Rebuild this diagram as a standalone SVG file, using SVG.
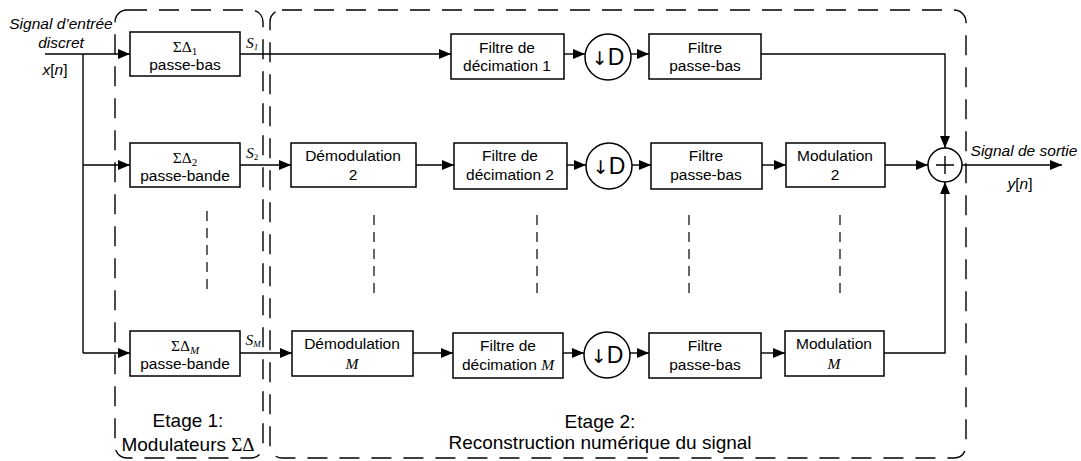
<svg xmlns="http://www.w3.org/2000/svg" width="1081" height="461" viewBox="0 0 1081 461">
<style>
.box{fill:#fff;stroke:#000;stroke-width:1.5}
.ln{fill:none;stroke:#000;stroke-width:1.4}
.stage{fill:none;stroke:#000;stroke-width:1.4;stroke-dasharray:20 12}
.dots{fill:none;stroke:#000;stroke-width:1.2;stroke-dasharray:10 7}
text{font-family:"Liberation Sans",Arial,sans-serif;font-size:15.5px;fill:#000;text-anchor:middle}
.it{font-style:italic}
.tm{font-family:"Liberation Serif","Times New Roman",serif}
.big{font-size:19px}
.dd{font-size:23px}
.arw{font-family:"DejaVu Sans",sans-serif;font-size:19px}
</style>
<defs>
<marker id="ar" markerWidth="12" markerHeight="10" refX="12" refY="5" orient="auto" markerUnits="userSpaceOnUse">
<path d="M0,0 L12,5 L0,10 Z" fill="#000"/>
</marker>
</defs>

<g id="stage1">
<rect class="stage" x="115" y="10" width="148" height="448" rx="12"/>
<text class="big" x="188" y="427">Etage 1:</text>
<text class="big" x="188" y="451">Modulateurs <tspan class="tm">ΣΔ</tspan></text>
</g>
<g id="stage2">
<rect class="stage" x="270" y="10" width="696" height="448" rx="12"/>
<text class="big" x="600" y="428">Etage 2:</text>
<text class="big" x="600" y="449">Reconstruction numérique du signal</text>
</g>

<g id="connectors">
<path class="ln" d="M45,54 H130" marker-end="url(#ar)"/>
<path class="ln" d="M83,54 V353"/>
<path class="ln" d="M83,165 H130" marker-end="url(#ar)"/>
<path class="ln" d="M83,353 H130" marker-end="url(#ar)"/>
<path class="ln" d="M240,54 H451" marker-end="url(#ar)"/>
<path class="ln" d="M564,54 H585" marker-end="url(#ar)"/>
<path class="ln" d="M631,54 H649" marker-end="url(#ar)"/>
<path class="ln" d="M761,54 H945 V148" marker-end="url(#ar)"/>
<path class="ln" d="M240,165 H291" marker-end="url(#ar)"/>
<path class="ln" d="M416,165 H454" marker-end="url(#ar)"/>
<path class="ln" d="M567,165 H586" marker-end="url(#ar)"/>
<path class="ln" d="M632,165 H651" marker-end="url(#ar)"/>
<path class="ln" d="M762,165 H786" marker-end="url(#ar)"/>
<path class="ln" d="M885,165 H928" marker-end="url(#ar)"/>
<path class="ln" d="M240,353 H292" marker-end="url(#ar)"/>
<path class="ln" d="M413,353 H453" marker-end="url(#ar)"/>
<path class="ln" d="M563,353 H584" marker-end="url(#ar)"/>
<path class="ln" d="M630,353 H649" marker-end="url(#ar)"/>
<path class="ln" d="M761,353 H785" marker-end="url(#ar)"/>
<path class="ln" d="M884,353 H945 V182" marker-end="url(#ar)"/>
<path class="ln" d="M962,165 H1062" marker-end="url(#ar)"/>
<path class="dots" d="M207,211 V295"/>
<path class="dots" d="M374,215 V297"/>
<path class="dots" d="M537,215 V297"/>
<path class="dots" d="M689,215 V297"/>
<path class="dots" d="M840,215 V297"/>
</g>

<g id="labels">
<text class="it" x="61" y="29">Signal d’entrée</text>
<text class="it" x="61" y="48">discret</text>
<text x="55" y="75"><tspan class="it">x</tspan>[<tspan class="it">n</tspan>]</text>
<text class="it" x="1024" y="156">Signal de sortie</text>
<text x="1020" y="189"><tspan class="it">y</tspan>[<tspan class="it">n</tspan>]</text>
<text class="tm it" x="252" y="48" font-size="14">S<tspan font-size="9" dy="2">1</tspan></text>
<text class="tm it" x="252" y="158" font-size="14">S<tspan font-size="9" dy="2" font-style="normal">2</tspan></text>
<text class="tm it" x="253" y="345" font-size="14">S<tspan font-size="9" dy="2">M</tspan></text>
</g>

<g id="sd1">
<rect class="box" x="130" y="32" width="110" height="44"/>
<text class="tm" x="185" y="52" font-size="17">ΣΔ<tspan font-size="11" dy="3">1</tspan></text>
<text x="185" y="70">passe-bas</text>
</g>
<g id="sd2">
<rect class="box" x="130" y="143" width="110" height="44"/>
<text class="tm" x="185" y="163" font-size="17">ΣΔ<tspan font-size="11" dy="3">2</tspan></text>
<text x="185" y="181">passe-bande</text>
</g>
<g id="sdM">
<rect class="box" x="130" y="331" width="110" height="45"/>
<text class="tm" x="185" y="351" font-size="17">ΣΔ<tspan class="it" font-size="11" dy="3">M</tspan></text>
<text x="185" y="369">passe-bande</text>
</g>

<g id="dec1">
<rect class="box" x="451" y="34" width="113" height="45"/>
<text x="507" y="53">Filtre de</text>
<text x="507" y="71">décimation 1</text>
</g>
<g id="down1">
<circle class="box" cx="608" cy="57" r="23"/>
<text class="dd" x="608" y="65"><tspan class="arw">↓&#xFE0E;</tspan>D</text>
</g>
<g id="lp1">
<rect class="box" x="649" y="34" width="112" height="45"/>
<text x="705" y="53">Filtre</text>
<text x="705" y="71">passe-bas</text>
</g>

<g id="dem2">
<rect class="box" x="291" y="143" width="125" height="44"/>
<text x="353" y="161">Démodulation</text>
<text x="353" y="180">2</text>
</g>
<g id="dec2">
<rect class="box" x="454" y="143" width="113" height="46"/>
<text x="510" y="161">Filtre de</text>
<text x="510" y="180">décimation 2</text>
</g>
<g id="down2">
<circle class="box" cx="609" cy="166" r="23"/>
<text class="dd" x="609" y="174"><tspan class="arw">↓&#xFE0E;</tspan>D</text>
</g>
<g id="lp2">
<rect class="box" x="651" y="143" width="111" height="46"/>
<text x="706" y="161">Filtre</text>
<text x="706" y="180">passe-bas</text>
</g>
<g id="mod2">
<rect class="box" x="786" y="143" width="99" height="44"/>
<text x="835" y="161">Modulation</text>
<text x="835" y="180">2</text>
</g>

<g id="demM">
<rect class="box" x="292" y="331" width="121" height="45"/>
<text x="352" y="349">Démodulation</text>
<text class="tm it" x="352" y="369">M</text>
</g>
<g id="decM">
<rect class="box" x="453" y="333" width="110" height="45"/>
<text x="508" y="351">Filtre de</text>
<text x="508" y="370">décimation <tspan class="tm it">M</tspan></text>
</g>
<g id="downM">
<circle class="box" cx="607" cy="355" r="23"/>
<text class="dd" x="607" y="363"><tspan class="arw">↓&#xFE0E;</tspan>D</text>
</g>
<g id="lpM">
<rect class="box" x="649" y="333" width="112" height="45"/>
<text x="705" y="351">Filtre</text>
<text x="705" y="370">passe-bas</text>
</g>
<g id="modM">
<rect class="box" x="785" y="331" width="99" height="45"/>
<text x="834" y="349">Modulation</text>
<text class="tm it" x="834" y="369">M</text>
</g>

<g id="sum">
<circle class="box" cx="945" cy="165" r="17"/>
<path class="ln" d="M936,165 H954 M945,156 V174" stroke-width="1.2"/>
</g>
</svg>
